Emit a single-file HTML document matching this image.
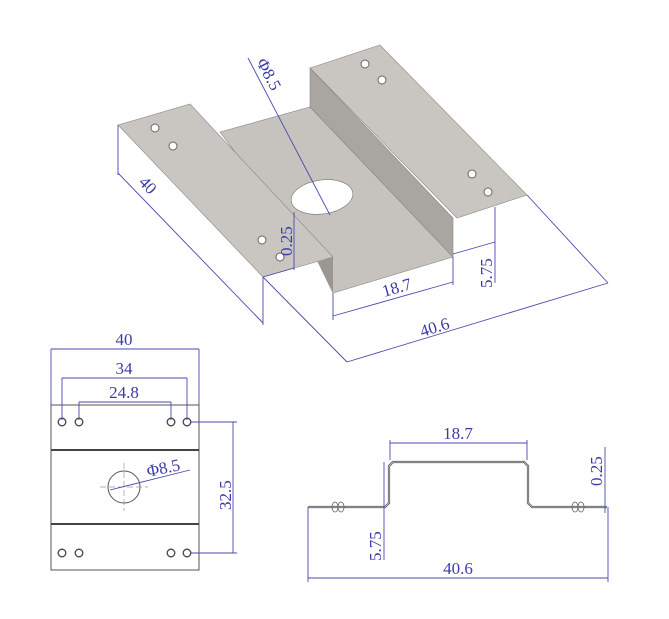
<!DOCTYPE html>
<html><head><meta charset="utf-8"><style>
html,body{margin:0;padding:0;background:#fff}
svg{display:block}
text{font-family:"Liberation Serif","Noto Serif CJK SC",serif;font-size:17px;fill:#3b3ba8}
.d{stroke:#4a4ab0;stroke-width:0.9;fill:none}
.e{stroke:#666;stroke-width:0.8;fill:none}
.k{stroke:#555;stroke-width:1;fill:none}
</style></head><body>
<svg width="669" height="619" viewBox="0 0 669 619" xmlns="http://www.w3.org/2000/svg">
<polygon points="220,132 310,107 453,257 333,293 318,262" fill="#c6c3be" stroke="#888" stroke-width="0.6"/>
<polygon points="318,262 333,257 333,293" fill="#9a9792"/>
<polygon points="310,68 310,107 453,257 453,218" fill="#a9a6a1" stroke="#888" stroke-width="0.6"/>
<polygon points="310,68 380,45 527,195 457,218" fill="#c9c6c1" stroke="#888" stroke-width="0.6"/>
<polygon points="118,125 190,104 333,257 263,277" fill="#c9c6c1" stroke="#888" stroke-width="0.6"/>
<ellipse cx="322" cy="197" rx="31" ry="17" transform="rotate(-8 322 197)" fill="#fff" stroke="#777" stroke-width="0.6"/>
<g fill="#fff" stroke="#666" stroke-width="1">
<circle cx="155" cy="128" r="4"/><circle cx="173" cy="146" r="4"/>
<circle cx="262" cy="240" r="4"/><circle cx="280" cy="257" r="4"/>
<circle cx="365" cy="64" r="4"/><circle cx="382" cy="80" r="4"/>
<circle cx="472" cy="174" r="4"/><circle cx="488" cy="192" r="4"/>
</g>
<line class="d" x1="248" y1="58" x2="330" y2="215"/>
<text transform="translate(256,62) rotate(62)">Φ8.5</text>
<line class="d" x1="118" y1="125" x2="118" y2="175"/>
<line class="d" x1="263" y1="277" x2="263" y2="325"/>
<line class="d" x1="118" y1="173" x2="263" y2="323"/>
<text transform="translate(138,183) rotate(46)">40</text>
<line class="d" x1="294" y1="212" x2="294" y2="270"/>
<line class="d" x1="263" y1="277" x2="294" y2="268"/>
<text transform="translate(292,256) rotate(-90)">0.25</text>
<line class="d" x1="333" y1="293" x2="333" y2="320"/>
<line class="d" x1="453" y1="257" x2="453" y2="285"/>
<line class="d" x1="333" y1="316" x2="453" y2="282"/>
<text transform="translate(384,297) rotate(-16)">18.7</text>
<line class="d" x1="495" y1="207" x2="495" y2="283"/>
<line class="d" x1="453" y1="254" x2="495" y2="242"/>
<text transform="translate(492,288) rotate(-90)">5.75</text>
<line class="d" x1="263" y1="277" x2="347" y2="362"/>
<line class="d" x1="527" y1="195" x2="608" y2="283"/>
<line class="d" x1="347" y1="362" x2="608" y2="283"/>
<text transform="translate(422,337) rotate(-17)">40.6</text>
<rect x="51" y="405" width="148" height="165" class="k"/>
<line x1="51" y1="450" x2="199" y2="450" stroke="#444" stroke-width="2"/>
<line x1="51" y1="524" x2="199" y2="524" stroke="#444" stroke-width="2"/>
<g fill="#fff" stroke="#444" stroke-width="1.3">
<circle cx="62" cy="422" r="3.8"/><circle cx="79" cy="422" r="3.8"/><circle cx="171" cy="422" r="3.8"/><circle cx="187" cy="422" r="3.8"/>
<circle cx="62" cy="553" r="3.8"/><circle cx="79" cy="553" r="3.8"/><circle cx="171" cy="553" r="3.8"/><circle cx="187" cy="553" r="3.8"/>
</g>
<circle cx="124" cy="487" r="16" class="k"/>
<line x1="100" y1="487" x2="148" y2="487" stroke="#999" stroke-width="0.7" stroke-dasharray="6,3"/>
<line x1="124" y1="463" x2="124" y2="511" stroke="#999" stroke-width="0.7" stroke-dasharray="6,3"/>
<line class="d" x1="110" y1="490" x2="190" y2="470"/>
<text transform="translate(148,477) rotate(-12)">Φ8.5</text>
<line class="d" x1="51" y1="349" x2="51" y2="405"/>
<line class="d" x1="199" y1="349" x2="199" y2="405"/>
<line class="d" x1="51" y1="349" x2="199" y2="349"/>
<text x="124" y="345" text-anchor="middle">40</text>
<line class="d" x1="62" y1="378" x2="62" y2="420"/>
<line class="d" x1="187" y1="378" x2="187" y2="420"/>
<line class="d" x1="62" y1="378" x2="187" y2="378"/>
<text x="124" y="374" text-anchor="middle">34</text>
<line class="d" x1="79" y1="402" x2="79" y2="420"/>
<line class="d" x1="171" y1="402" x2="171" y2="420"/>
<line class="d" x1="79" y1="402" x2="171" y2="402"/>
<text x="124" y="398" text-anchor="middle">24.8</text>
<line class="d" x1="190" y1="422" x2="237" y2="422"/>
<line class="d" x1="190" y1="553" x2="237" y2="553"/>
<line class="d" x1="233" y1="422" x2="233" y2="553"/>
<text transform="translate(231,510) rotate(-90)">32.5</text>
<polyline points="308,507 385,507 389,503 389,466 393,462 524,462 528,466 528,503 532,507 607,507" stroke="#555" stroke-width="2.2" fill="none"/>
<polyline points="308,507 385,507 389,503 389,466 393,462 524,462 528,466 528,503 532,507 607,507" stroke="#ccc" stroke-width="0.8" fill="none"/>
<g class="e">
<ellipse cx="335" cy="507" rx="3" ry="5"/><ellipse cx="341" cy="507" rx="3" ry="5"/>
<ellipse cx="575" cy="507" rx="3" ry="5"/><ellipse cx="581" cy="507" rx="3" ry="5"/>
</g>
<line class="d" x1="390" y1="440" x2="390" y2="460"/>
<line class="d" x1="527" y1="440" x2="527" y2="460"/>
<line class="d" x1="390" y1="443" x2="527" y2="443"/>
<text x="458" y="439" text-anchor="middle">18.7</text>
<line class="d" x1="384" y1="462" x2="384" y2="560"/>
<text transform="translate(381,561) rotate(-90)">5.75</text>
<line class="d" x1="605" y1="447" x2="605" y2="513"/>
<text transform="translate(602,486) rotate(-90)">0.25</text>
<line class="d" x1="308" y1="507" x2="308" y2="582"/>
<line class="d" x1="608" y1="507" x2="608" y2="582"/>
<line class="d" x1="308" y1="578" x2="608" y2="578"/>
<text x="458" y="574" text-anchor="middle">40.6</text>
</svg>
</body></html>
